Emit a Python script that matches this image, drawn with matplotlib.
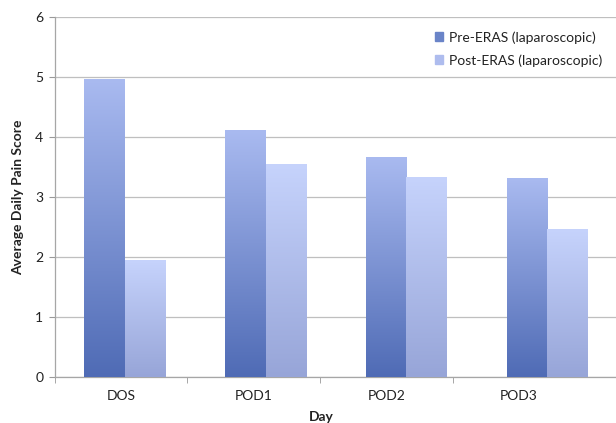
import numpy as np
import matplotlib
matplotlib.use('Agg')
import matplotlib.pyplot as plt
from matplotlib.colors import LinearSegmentedColormap
from matplotlib.patches import Rectangle

categories = ['DOS', 'POD1', 'POD2', 'POD3']
pre_eras = [4.95, 4.1, 3.65, 3.3]
post_eras = [1.94, 3.54, 3.32, 2.46]
series_names = ['Pre-ERAS (laparoscopic)', 'Post-ERAS (laparoscopic)']

plt.rcParams['font.family'] = ['Lato', 'DejaVu Sans']

GRID = '#bfbfbf'
TEXT = '#222222'
# bottom -> top colours of each bar's gradient
PRE_CMAP = LinearSegmentedColormap.from_list('pre', ['#4f6bb5', '#a9baf0'])
POST_CMAP = LinearSegmentedColormap.from_list('post', ['#97a5d8', '#c6d3fc'])

fig = plt.figure(figsize=(6.16, 4.23), dpi=100)
ax = fig.add_axes([0.0885, 0.1087, 0.9115, 0.8513])

x = np.arange(len(categories))
width = 0.287
bars_pre = ax.bar(x - width / 2, pre_eras, width, color='none', zorder=3)
bars_post = ax.bar(x + width / 2, post_eras, width, color='none', zorder=3)

grad = np.linspace(0, 1, 256).reshape(-1, 1)
for bars, cmap in ((bars_pre, PRE_CMAP), (bars_post, POST_CMAP)):
    for b in bars:
        x0, w, h = b.get_x(), b.get_width(), b.get_height()
        ax.imshow(grad, cmap=cmap, origin='lower', aspect='auto',
                  extent=(x0, x0 + w, 0, h), zorder=3)

ax.set_xlim(-0.5, 3.49)
ax.set_ylim(0, 6)
ax.set_yticks(range(0, 7))

# category labels and boundary ticks (as laid out in the original)
step = 0.943
ax.set_xticks([-0.5 + step * (k + 0.5) for k in range(4)])
ax.set_xticklabels(categories)
ax.set_xticks([-0.5 + step * k for k in range(4)], minor=True)
ax.tick_params(axis='x', which='major', length=0, pad=9, labelsize=10, labelcolor=TEXT)
ax.tick_params(axis='x', which='minor', length=4, direction='out', color='#999999')
ax.tick_params(axis='y', length=4, direction='out', color='#999999', labelsize=10,
               labelcolor=TEXT, pad=4)

ax.grid(True, axis='y', color=GRID, linewidth=0.9, zorder=0)
ax.set_axisbelow(True)
for s in ('top', 'right'):
    ax.spines[s].set_visible(False)
for s in ('left', 'bottom'):
    ax.spines[s].set_color('#a6a6a6')
    ax.spines[s].set_linewidth(0.9)

ax.set_ylabel('Average Daily Pain Score', fontsize=10, fontweight='bold', color=TEXT, labelpad=8)
ax.set_xlabel('Day', fontsize=10, fontweight='bold', color=TEXT)
ax.xaxis.set_label_coords(0.475, -0.095)

handles = [Rectangle((0, 0), 1, 1, color='#6a84c8'), Rectangle((0, 0), 1, 1, color='#aebcee')]
leg = ax.legend(handles, series_names, loc='upper right', bbox_to_anchor=(0.997, 0.995),
                frameon=False, fontsize=10, handlelength=0.6, handleheight=0.6,
                handletextpad=0.4, labelspacing=0.75)
for t in leg.get_texts():
    t.set_color(TEXT)

fig.savefig('out.png', dpi=100)
